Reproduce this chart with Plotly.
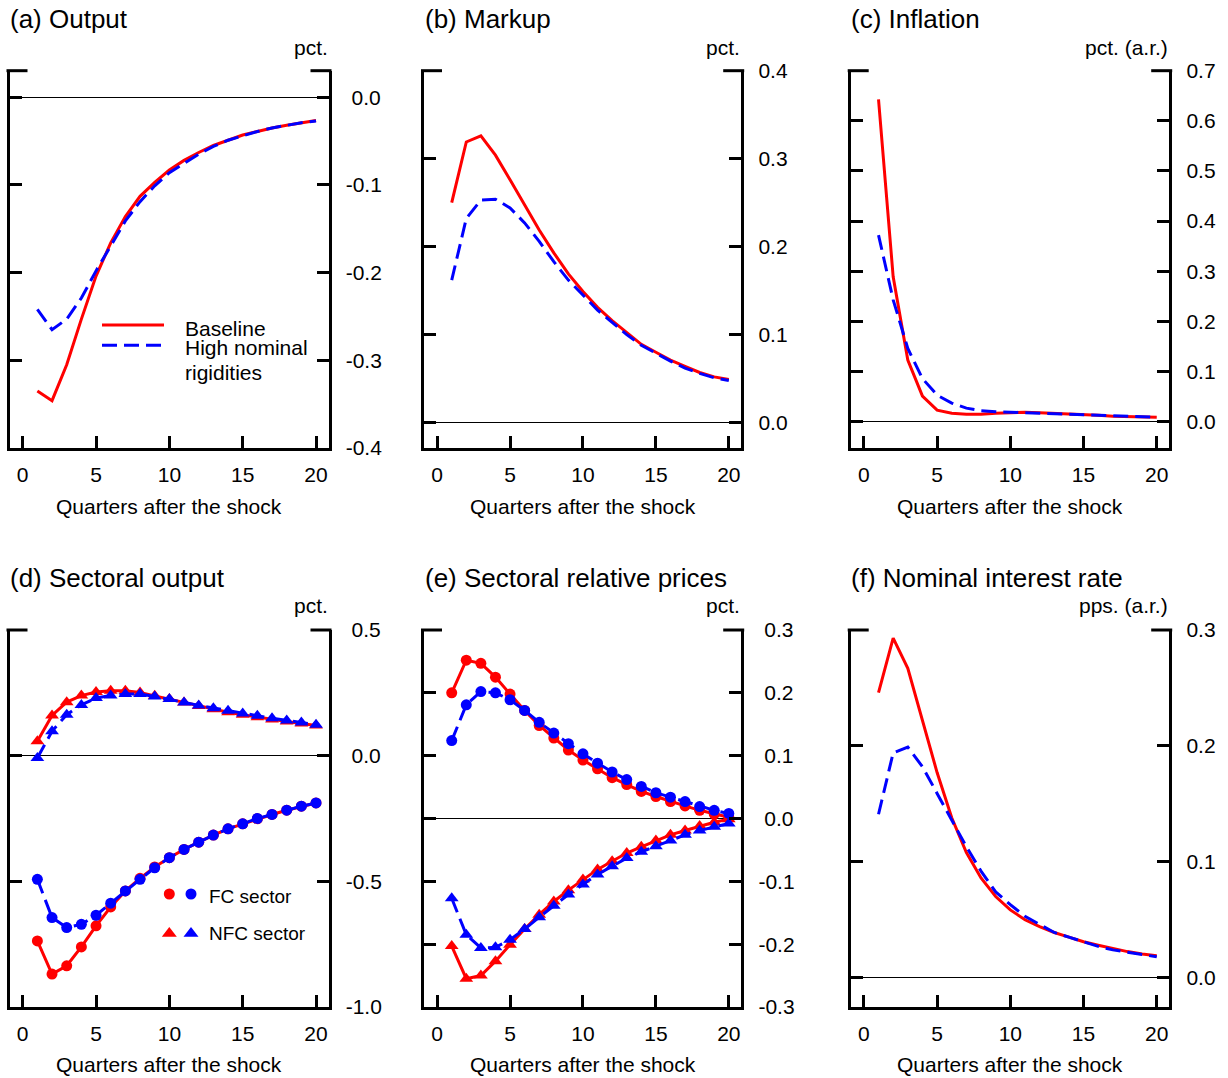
import plotly.graph_objects as go

W, H = 1228, 1078
FONT = "Liberation Sans, Arial, sans-serif"
RED = "#FF0000"
BLUE = "#0000FF"
DASH = "15px,7px"

quarters = list(range(1, 21))
x_ticks = [0, 5, 10, 15, 20]

# (a) Output
out_base = [-0.335, -0.346, -0.305, -0.253, -0.204, -0.166, -0.136, -0.113, -0.097, -0.083,
            -0.072, -0.063, -0.055, -0.049, -0.043, -0.039, -0.035, -0.032, -0.029, -0.0265]
out_high = [-0.242, -0.265, -0.253, -0.229, -0.198, -0.169, -0.141, -0.119, -0.101, -0.086,
            -0.075, -0.065, -0.056, -0.049, -0.044, -0.039, -0.035, -0.032, -0.029, -0.027]
# (b) Markup
markup_base = [0.250, 0.319, 0.326, 0.304, 0.276, 0.247, 0.219, 0.193, 0.169, 0.149,
               0.131, 0.116, 0.102, 0.089, 0.080, 0.071, 0.064, 0.057, 0.052, 0.049]
markup_high = [0.162, 0.232, 0.253, 0.254, 0.244, 0.227, 0.206, 0.183, 0.162, 0.145,
               0.128, 0.114, 0.100, 0.088, 0.079, 0.070, 0.062, 0.056, 0.051, 0.048]
# (c) Inflation
infl_base = [0.643, 0.289, 0.123, 0.051, 0.023, 0.017, 0.015, 0.015, 0.017, 0.018,
             0.019, 0.018, 0.017, 0.015, 0.014, 0.013, 0.011, 0.010, 0.010, 0.009]
infl_high = [0.372, 0.243, 0.146, 0.086, 0.053, 0.037, 0.027, 0.022, 0.020, 0.019,
             0.018, 0.017, 0.015, 0.015, 0.013, 0.012, 0.011, 0.010, 0.009, 0.009]
# (d) Sectoral output
fc_out_base = [-0.737, -0.869, -0.836, -0.761, -0.677, -0.602, -0.538, -0.488, -0.443, -0.406,
               -0.373, -0.344, -0.316, -0.291, -0.271, -0.251, -0.234, -0.217, -0.201, -0.188]
fc_out_high = [-0.492, -0.644, -0.684, -0.671, -0.635, -0.587, -0.538, -0.492, -0.446, -0.406,
               -0.373, -0.344, -0.316, -0.291, -0.271, -0.250, -0.234, -0.217, -0.201, -0.188]
nfc_out_base = [0.057, 0.160, 0.213, 0.239, 0.253, 0.258, 0.258, 0.251, 0.238, 0.225,
                0.212, 0.198, 0.185, 0.173, 0.163, 0.153, 0.144, 0.136, 0.128, 0.120]
nfc_out_high = [-0.009, 0.097, 0.163, 0.202, 0.229, 0.239, 0.245, 0.245, 0.235, 0.225,
                0.212, 0.200, 0.189, 0.179, 0.168, 0.159, 0.149, 0.140, 0.132, 0.123]
# (e) Sectoral relative prices
fc_relp_base = [0.200, 0.252, 0.247, 0.225, 0.198, 0.172, 0.148, 0.128, 0.109, 0.093,
                0.079, 0.065, 0.054, 0.043, 0.035, 0.027, 0.020, 0.013, 0.007, 0.002]
fc_relp_high = [0.124, 0.181, 0.202, 0.200, 0.189, 0.172, 0.153, 0.136, 0.119, 0.103,
                0.088, 0.074, 0.062, 0.051, 0.041, 0.034, 0.027, 0.019, 0.013, 0.008]
nfc_relp_base = [-0.203, -0.255, -0.250, -0.227, -0.201, -0.176, -0.153, -0.132, -0.114, -0.097,
                 -0.081, -0.068, -0.055, -0.045, -0.035, -0.026, -0.019, -0.012, -0.006, -0.001]
nfc_relp_high = [-0.127, -0.185, -0.206, -0.205, -0.193, -0.176, -0.157, -0.139, -0.121, -0.105,
                 -0.089, -0.076, -0.063, -0.053, -0.044, -0.035, -0.026, -0.019, -0.013, -0.008]
# (f) Nominal interest rate
rate_base = [0.246, 0.293, 0.267, 0.223, 0.177, 0.138, 0.108, 0.086, 0.070, 0.0585,
             0.050, 0.044, 0.039, 0.035, 0.031, 0.028, 0.025, 0.0225, 0.0205, 0.019]
rate_high = [0.141, 0.194, 0.199, 0.182, 0.159, 0.136, 0.113, 0.092, 0.074, 0.063,
             0.053, 0.046, 0.039, 0.035, 0.031, 0.027, 0.024, 0.022, 0.020, 0.018]

titles = ["(a) Output", "(b) Markup", "(c) Inflation",
          "(d) Sectoral output", "(e) Sectoral relative prices", "(f) Nominal interest rate"]
units = ["pct.", "pct.", "pct. (a.r.)", "pct.", "pct.", "pps. (a.r.)"]
x_title = "Quarters after the shock"

y_ticks = [
    [-0.4, -0.3, -0.2, -0.1, 0.0],
    [0.0, 0.1, 0.2, 0.3, 0.4],
    [0.0, 0.1, 0.2, 0.3, 0.4, 0.5, 0.6, 0.7],
    [-1.0, -0.5, 0.0, 0.5],
    [-0.3, -0.2, -0.1, 0.0, 0.1, 0.2, 0.3],
    [0.0, 0.1, 0.2, 0.3],
]
y_ranges = [
    [-0.4, 0.0303],
    [-0.0288, 0.4],
    [-0.0525, 0.7],
    [-1.0, 0.5],
    [-0.3, 0.3],
    [-0.0253, 0.3],
]
x_range = [-0.9, 20.85]

legend_a = ["Baseline", "High nominal", "rigidities"]
legend_d = ["FC sector", "NFC sector"]

# layout geometry (pixels)
cols = [(9.5, 328.5), (424.0, 741.2), (850.7, 1169.2)]
rows = [(70.7, 448.0), (630.0, 1007.0)]


def px(x):
    return x / W


def py(y):
    return 1 - y / H


def fmt(v, neg_pad):
    s = "%.1f" % v
    if v < 0:
        return s
    return ("\u00a0" + s) if neg_pad else s


fig = go.Figure()
layout = dict(
    width=W, height=H, margin=dict(l=0, r=0, t=0, b=0, pad=0, autoexpand=False),
    paper_bgcolor="white", plot_bgcolor="rgba(0,0,0,0)",
    showlegend=False, font=dict(family=FONT, size=21, color="black"),
)
shapes = []
annotations = []

for i in range(6):
    r, c = divmod(i, 3)
    x0, x1 = cols[c]
    y0, y1 = rows[r]
    k = "" if i == 0 else str(i + 1)
    has_neg = any(v < 0 for v in y_ticks[i])
    layout["xaxis" + k] = dict(
        domain=[px(x0), px(x1)], range=x_range, anchor="y" + k,
        showline=True, linewidth=3, linecolor="black", mirror=False,
        ticks="inside", ticklen=12, tickwidth=3, tickcolor="black",
        tickvals=x_ticks, ticktext=[str(v) for v in x_ticks],
        showgrid=False, zeroline=False, ticklabelstandoff=6, automargin=False,
        tickfont=dict(family=FONT, size=21, color="black"),
    )
    layout["yaxis" + k] = dict(
        domain=[py(y1), py(y0)], range=y_ranges[i], anchor="x" + k, side="right",
        showline=True, linewidth=3, linecolor="black", mirror="ticks",
        ticks="inside", ticklen=12, tickwidth=3, tickcolor="black",
        tickvals=y_ticks[i], ticktext=[fmt(v, has_neg) for v in y_ticks[i]],
        showgrid=False, zeroline=True, zerolinecolor="black", zerolinewidth=1,
        ticklabelstandoff=10, automargin=False,
        tickfont=dict(family=FONT, size=21, color="black"),
    )
    wpx = x1 - x0
    # top corner stubs
    for a, b in [(-3.0 / wpx, 18.0 / wpx), (1 - 18.0 / wpx, 1 + 3.0 / wpx)]:
        shapes.append(dict(type="line", xref="x%s domain" % k, yref="y%s domain" % k,
                           x0=a, x1=b, y0=1, y1=1, line=dict(color="black", width=3)))
    # titles
    ty = 19.2 if r == 0 else 577.5
    annotations.append(dict(text=titles[i], x=px(x0 - 1.5), y=py(ty), xref="paper", yref="paper",
                            xanchor="left", yanchor="middle", showarrow=False,
                            font=dict(family=FONT, size=26, color="black")))
    uy = 47.5 if r == 0 else 605.8
    annotations.append(dict(text=units[i], x=px(x1 + 1), y=py(uy), xref="paper", yref="paper",
                            xanchor="right", yanchor="middle", showarrow=False,
                            font=dict(family=FONT, size=21, color="black")))
    xy = 506.7 if r == 0 else 1064
    annotations.append(dict(text=x_title, x=px((x0 + x1) / 2), y=py(xy), xref="paper", yref="paper",
                            xanchor="center", yanchor="middle", showarrow=False,
                            font=dict(family=FONT, size=21, color="black")))


def line(y, color, dash, axis, name):
    fig.add_trace(go.Scatter(x=quarters, y=y, mode="lines", name=name,
                             xaxis="x" + axis, yaxis="y" + axis,
                             line=dict(color=color, width=3, dash=dash)))


def mline(y, color, dash, symbol, size, axis, name):
    fig.add_trace(go.Scatter(x=quarters, y=y, mode="lines+markers", name=name,
                             xaxis="x" + axis, yaxis="y" + axis,
                             line=dict(color=color, width=3, dash=dash),
                             marker=dict(color=color, symbol=symbol, size=size, line=dict(width=0))))


line(out_base, RED, "solid", "", "Baseline")
line(out_high, BLUE, DASH, "", "High nominal rigidities")
line(markup_base, RED, "solid", "2", "Baseline")
line(markup_high, BLUE, DASH, "2", "High nominal rigidities")
line(infl_base, RED, "solid", "3", "Baseline")
line(infl_high, BLUE, DASH, "3", "High nominal rigidities")

mline(fc_out_base, RED, "solid", "circle", 11, "4", "FC sector, baseline")
mline(nfc_out_base, RED, "solid", "triangle-up", 12, "4", "NFC sector, baseline")
mline(fc_out_high, BLUE, DASH, "circle", 11, "4", "FC sector, high rigidities")
mline(nfc_out_high, BLUE, DASH, "triangle-up", 12, "4", "NFC sector, high rigidities")

mline(fc_relp_base, RED, "solid", "circle", 11, "5", "FC sector, baseline")
mline(nfc_relp_base, RED, "solid", "triangle-up", 12, "5", "NFC sector, baseline")
mline(fc_relp_high, BLUE, DASH, "circle", 11, "5", "FC sector, high rigidities")
mline(nfc_relp_high, BLUE, DASH, "triangle-up", 12, "5", "NFC sector, high rigidities")

line(rate_base, RED, "solid", "6", "Baseline")
line(rate_high, BLUE, DASH, "6", "High nominal rigidities")

# ---- legend keys (panel a): line samples
shapes.append(dict(type="line", xref="paper", yref="paper", x0=px(102), x1=px(164),
                   y0=py(325), y1=py(325), line=dict(color=RED, width=3)))
shapes.append(dict(type="line", xref="paper", yref="paper", x0=px(102), x1=px(164),
                   y0=py(345.3), y1=py(345.3), line=dict(color=BLUE, width=3, dash=DASH)))
for txt, yy in zip(legend_a, [328, 347.5, 372.5]):
    annotations.append(dict(text=txt, x=px(183), y=py(yy), xref="paper", yref="paper",
                            xanchor="left", yanchor="middle", showarrow=False,
                            font=dict(family=FONT, size=21, color="black")))

# ---- legend keys (panel d): marker samples on a pixel overlay axis
layout["xaxis7"] = dict(domain=[0, 1], range=[0, W], visible=False, anchor="y7",
                        fixedrange=True, automargin=False)
layout["yaxis7"] = dict(domain=[0, 1], range=[H, 0], visible=False, anchor="x7",
                        fixedrange=True, automargin=False)
fig.add_trace(go.Scatter(x=[169.3, 191.0], y=[894, 894], mode="markers", xaxis="x7", yaxis="y7",
                         marker=dict(color=[RED, BLUE], symbol="circle", size=11, line=dict(width=0)),
                         hoverinfo="skip"))
fig.add_trace(go.Scatter(x=[169.3, 191.0], y=[933.5, 933.5], mode="markers", xaxis="x7", yaxis="y7",
                         marker=dict(color=[RED, BLUE], symbol="triangle-up", size=13, line=dict(width=0)),
                         hoverinfo="skip"))
for txt, yy in zip(legend_d, [896.7, 933.3]):
    annotations.append(dict(text=txt, x=px(207), y=py(yy), xref="paper", yref="paper",
                            xanchor="left", yanchor="middle", showarrow=False,
                            font=dict(family=FONT, size=19, color="black")))

layout["shapes"] = shapes
layout["annotations"] = annotations
fig.update_layout(**layout)

page_fix = (
    "document.body.style.margin='0';document.body.style.padding='0';"
    "document.body.style.overflow='hidden';"
    "document.documentElement.style.overflow='hidden';"
)
fig.write_html("out.html", post_script=page_fix, config={"displayModeBar": False})
